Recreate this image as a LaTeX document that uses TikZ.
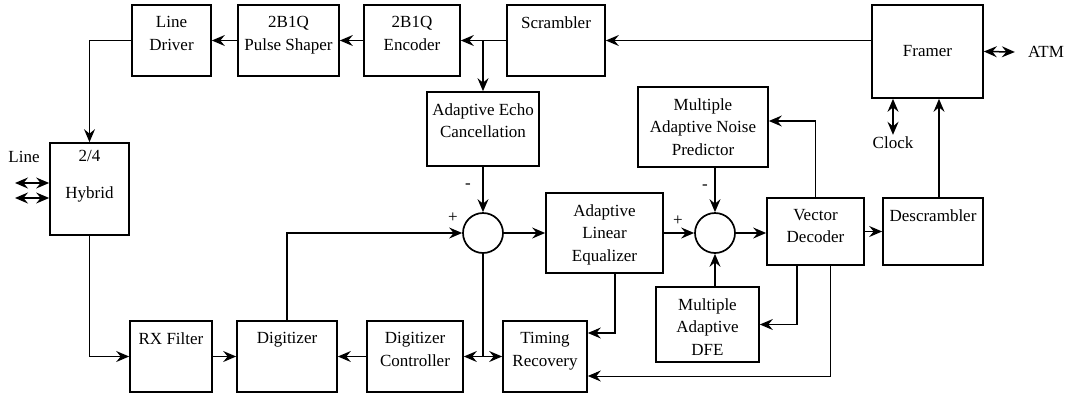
\documentclass[tikz,border=0pt]{standalone}
\usepackage{fontspec}
\setmainfont{Liberation Serif}
\usetikzlibrary{arrows.meta}

\tikzset{
  every node/.style={font=\fontsize{17}{22.5}\selectfont, inner sep=2pt},
  blk/.style={draw, line width=1.7pt, inner sep=0pt},
  ttl/.style={anchor=north, align=center, inner sep=0pt, yshift=-12pt},
  sumj/.style={draw, circle, line width=1.7pt, minimum size=40pt, inner sep=0pt},
  head/.tip={Stealth[length=13pt, width=11pt, inset=4.5pt]},
  arr/.style={line width=1.5pt, -head},
  dbl/.style={line width=1.5pt, head-head},
}

\begin{document}
\begin{tikzpicture}[x=1pt, y=-1pt]
    \useasboundingbox (0,0) rectangle (1074,397);

    % Transmit blocks along the top
    \node[blk, minimum width=79pt, minimum height=71pt, label={[ttl]north:Line\\Driver}] (ldrv) at (171.5,40.5) {};
    \node[blk, minimum width=101pt, minimum height=71pt, label={[ttl]north:2B1Q\\Pulse Shaper}] (pshp) at (288.5,40.5) {};
    \node[blk, minimum width=96pt, minimum height=71pt, label={[ttl]north:2B1Q\\Encoder}] (enc) at (412,40.5) {};
    \node[blk, minimum width=98pt, minimum height=71pt, label={[ttl]north:Scrambler}] (scr) at (556,40.5) {};
    \node[blk, minimum width=111pt, minimum height=93pt] (frm) at (927.5,51.5) {Framer};

    % Hybrid and receive front end
    \node[blk, minimum width=79pt, minimum height=92pt, label={[ttl, yshift=4pt]north:2/4\\[14pt]Hybrid}] (hyb) at (89.5,189) {};
    \node[blk, minimum width=82pt, minimum height=71pt, label={[ttl]north:RX Filter}] (rxf) at (171,356.5) {};
    \node[blk, minimum width=100pt, minimum height=71pt, label={[ttl]north:Digitizer}] (dig) at (287,356.5) {};
    \node[blk, minimum width=96pt, minimum height=71pt, label={[ttl]north:Digitizer\\Controller}] (dctl) at (415,356.5) {};
    \node[blk, minimum width=84pt, minimum height=71pt, label={[ttl]north:Timing\\Recovery}] (trec) at (545,356.5) {};

    % Echo canceller, equalizer, predictor and decoder
    \node[blk, minimum width=112pt, minimum height=74pt, label={[ttl]north:Adaptive Echo\\Cancellation}] (aec) at (483,129) {};
    \node[sumj] (sum1) at (483,233) {};
    \node[blk, minimum width=117pt, minimum height=80pt, label={[ttl]north:Adaptive\\Linear\\Equalizer}] (ale) at (604.5,233) {};
    \node[blk, minimum width=130pt, minimum height=80pt, label={[ttl]north:Multiple\\Adaptive Noise\\Predictor}] (anp) at (703,127) {};
    \node[sumj] (sum2) at (715,233) {};
    \node[blk, minimum width=103pt, minimum height=75pt, label={[ttl]north:Multiple\\Adaptive\\DFE}] (dfe) at (707.5,324.5) {};
    \node[blk, minimum width=97pt, minimum height=67pt, label={[ttl]north:Vector\\Decoder}] (vdec) at (815.5,231.5) {};
    \node[blk, minimum width=100pt, minimum height=67pt, label={[ttl]north:Descrambler}] (desc) at (933,231.5) {};

    % Outside labels
    \node (atm) at (1046,52) {ATM};
    \node (clk) at (893,143) {Clock};
    \node (line) at (24,157) {Line};
    \coordinate (lineA) at (15,183);
    \coordinate (lineB) at (15,198);
    \coordinate (dtap) at ([xshift=6pt]desc.north);

    % Signs at the summing junctions
    \node (s1p) at (453,218) {+};
    \node (s1m) at (468,186) {-};
    \node (s2p) at (678,221) {+};
    \node (s2m) at (705,187) {-};

    % Transmit path
    \draw[arr] (frm.west |- scr.east) -- (scr.east);
    \draw[arr] (scr.west) -- (enc.east);
    \draw[arr] (aec.north |- scr.west) -- (aec.north);
    \draw[arr] (enc.west) -- (pshp.east);
    \draw[arr] (pshp.west) -- (ldrv.east);
    \draw[arr] (ldrv.west) -| (hyb.north);
    \draw[dbl] (hyb.west |- lineA) -- (lineA);
    \draw[dbl] (hyb.west |- lineB) -- (lineB);

    % Receive path
    \draw[arr] (hyb.south) |- (rxf.west);
    \draw[arr] (rxf.east) -- (dig.west);
    \draw[arr] (dctl.west) -- (dig.east);
    \draw[arr] (dig.north) |- (sum1.west);
    \draw[arr] (aec.south) -- (sum1.north);
    \draw[arr] (sum1.east) -- (ale.west |- sum1.east);
    \coordinate (split) at (sum1 |- dctl.east);
    \draw[line width=1.5pt] (sum1.south) -- (split);
    \draw[arr] (split) -- (dctl.east);
    \draw[arr] (split) -- (trec.west);
    \draw[arr, line width=1.1pt] ([xshift=10.5pt]ale.south) |- ([yshift=23.5pt]trec.east);
    \draw[arr] (ale.east |- sum2.west) -- (sum2.west);
    \draw[arr] (sum2.north |- anp.south) -- (sum2.north);
    \draw[arr] (dfe.north -| sum2.south) -- (sum2.south);
    \draw[arr] (sum2.east) -- (sum2.east -| vdec.west);
    \draw[arr] (vdec.east) -- (desc.west);
    \draw[arr] (vdec.north) |- ([yshift=6pt]anp.east);
    \draw[arr] ([xshift=-18.5pt]vdec.south) |- (dfe.east);
    \draw[arr, line width=0.9pt] ([xshift=14.5pt]vdec.south) |- ([yshift=-19.5pt]trec.east);
    \draw[arr] (dtap) -- (frm.south -| dtap);
    \draw[dbl] (frm.south -| clk.north) -- (clk.north);
    \draw[dbl] (frm.east) -- ([xshift=-11pt]atm.west);
\end{tikzpicture}
\end{document}
